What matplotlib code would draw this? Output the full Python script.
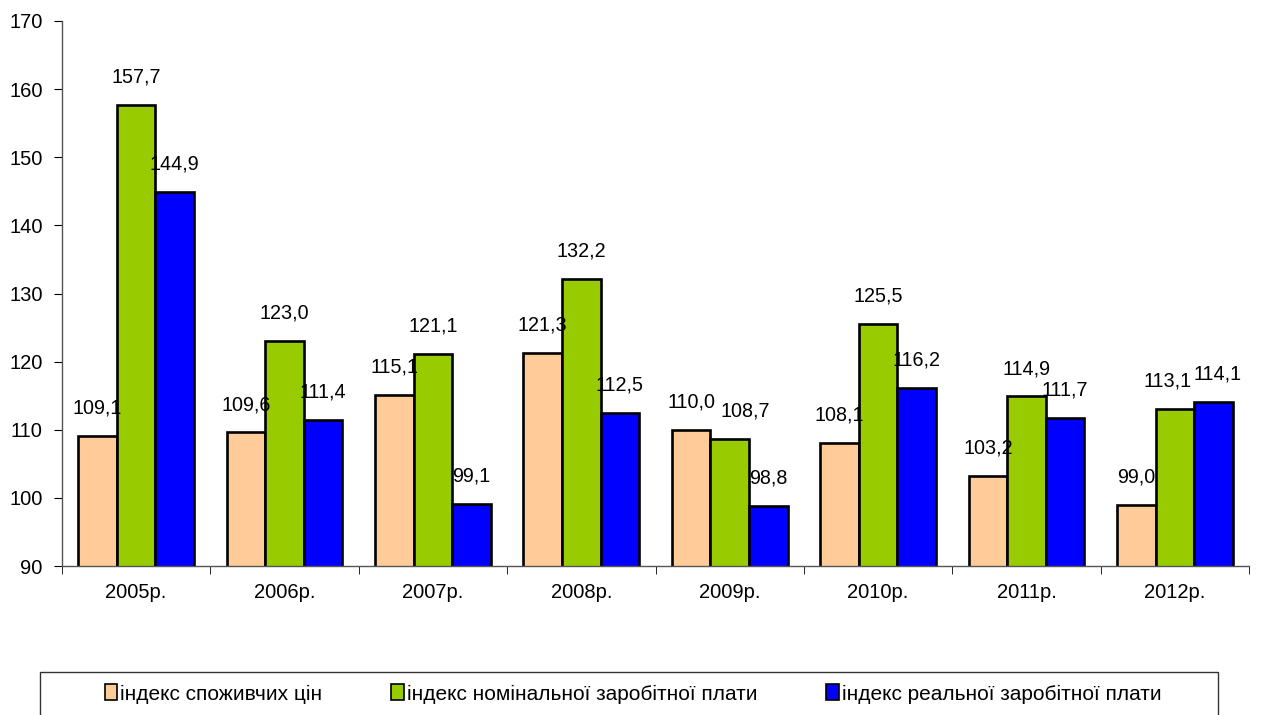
import matplotlib.pyplot as plt
import matplotlib.patches as mpatches
import numpy as np

plt.rcParams['font.family'] = ['Liberation Sans', 'DejaVu Sans']

years = ["2005р.", "2006р.", "2007р.", "2008р.", "2009р.", "2010р.", "2011р.", "2012р."]
cpi = [109.1, 109.6, 115.1, 121.3, 110.0, 108.1, 103.2, 99.0]
nominal = [157.7, 123.0, 121.1, 132.2, 108.7, 125.5, 114.9, 113.1]
real = [144.9, 111.4, 99.1, 112.5, 98.8, 116.2, 111.7, 114.1]
series_names = ["індекс споживчих цін",
                "індекс номінальної заробітної плати",
                "індекс реальної заробітної плати"]
colors = ["#FFCC99", "#99CC00", "#0000FF"]

# small sideways nudges (points) for labels that would collide, as Excel does
nudge = {(1, 4): 11, (1, 7): -5, (2, 7): 3}

fig = plt.figure(figsize=(12.78, 7.15), dpi=100)
ax = fig.add_axes([62 / 1278, 1 - 566 / 715, 1187 / 1278, 545 / 715])

x = np.arange(len(years))
w = 0.26
for i, vals in enumerate([cpi, nominal, real]):
    pos = x + (i - 1) * w
    ax.bar(pos, vals, w, bottom=0, color=colors[i], edgecolor="black",
           linewidth=1.9, zorder=2)
    for j, (px, v) in enumerate(zip(pos, vals)):
        ax.annotate(f"{v:.1f}".replace(".", ","), (px, v),
                    xytext=(nudge.get((i, j), 0), 20),
                    textcoords="offset points", ha="center", va="center",
                    fontsize=14.2, zorder=3)

ax.set_ylim(90, 170)
ax.set_xlim(-0.5, len(years) - 0.5)
ax.set_yticks(range(90, 171, 10))
ax.set_xticks(x)
ax.set_xticklabels(years, fontsize=14.5)
ax.set_xticks(np.arange(-0.5, len(years)), minor=True)
ax.tick_params(axis="x", which="major", length=0, pad=12)
ax.tick_params(axis="x", which="minor", length=6, direction="out")
ax.tick_params(axis="y", length=6, direction="out", labelsize=14.5, pad=8)
for s in ["top", "right"]:
    ax.spines[s].set_visible(False)
for s in ["left", "bottom"]:
    ax.spines[s].set_color("#555555")
    ax.spines[s].set_linewidth(1.0)

# legend frame
fig.patches.append(mpatches.Rectangle((40 / 1278, -0.01), 1178 / 1278, (715 - 672) / 715 + 0.01,
                                      transform=fig.transFigure, fill=False,
                                      edgecolor="#333333", linewidth=1.0))
handles = [mpatches.Patch(facecolor=c, edgecolor="black", linewidth=1.2) for c in colors]
fig.legend(handles, series_names, loc="center", bbox_to_anchor=(633 / 1278, 1 - 694 / 715),
           ncol=3, frameon=False, fontsize=15, handlelength=0.6, handleheight=0.8,
           handletextpad=0.15, columnspacing=3.3)

fig.savefig("out.png", dpi=100)
